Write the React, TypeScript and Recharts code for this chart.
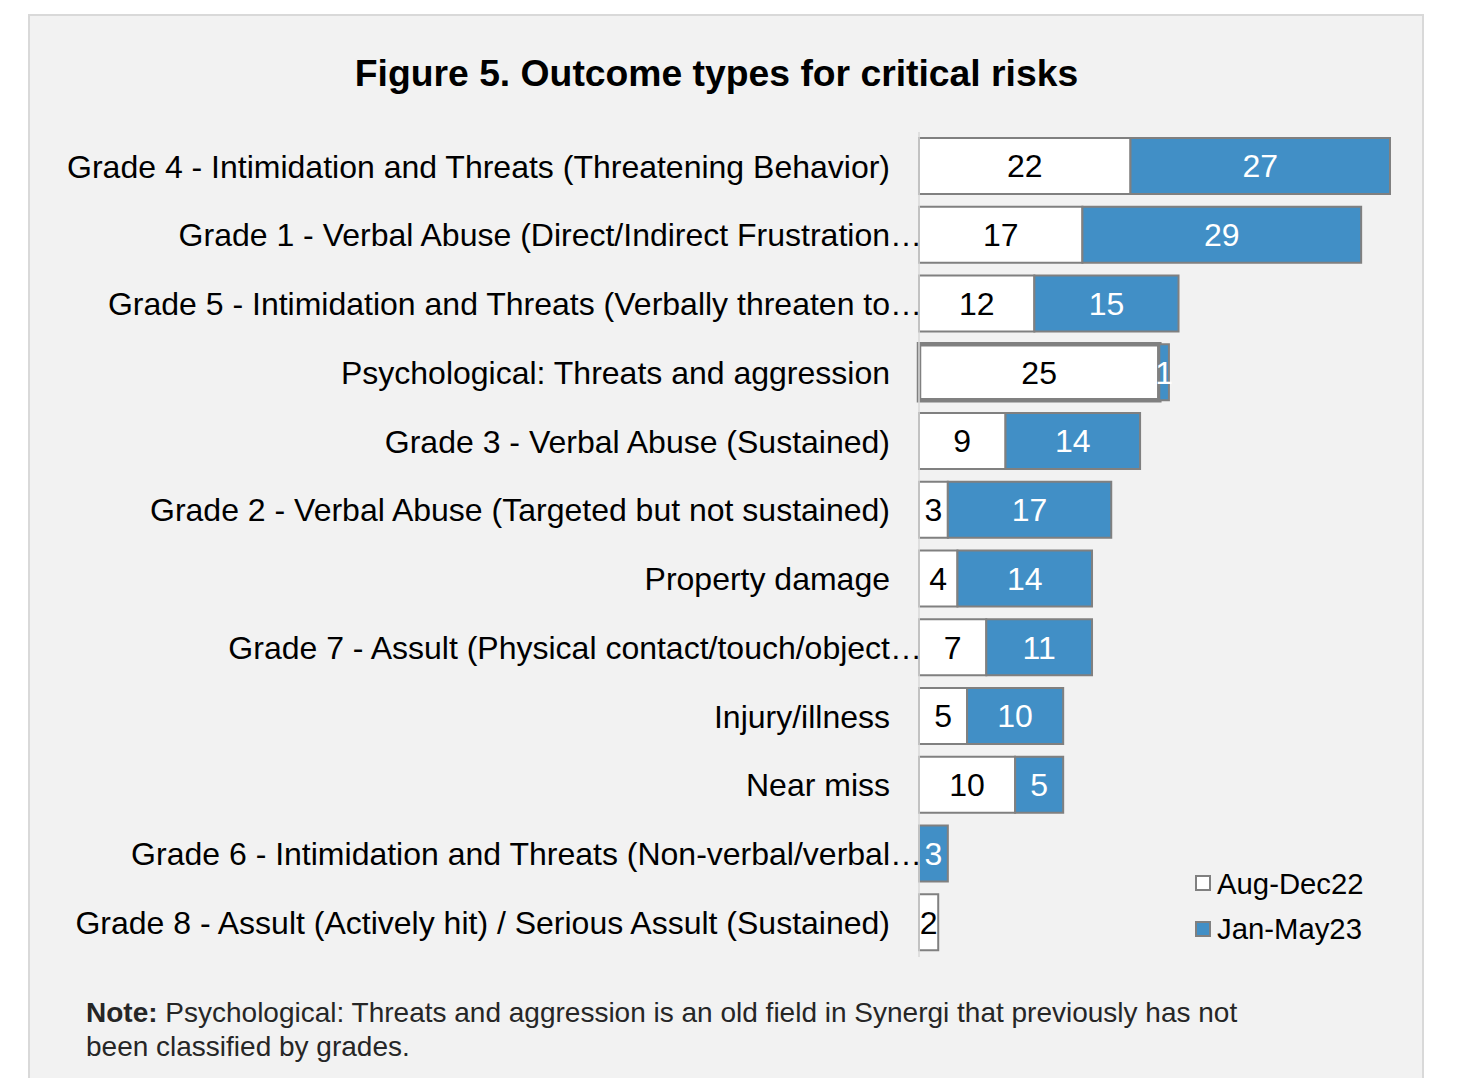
import React from 'react';
import { BarChart, Bar, XAxis, YAxis, LabelList, Legend, Cell } from 'recharts';

const categories = [
  'Grade 4 - Intimidation and Threats (Threatening Behavior)',
  'Grade 1 - Verbal Abuse (Direct/Indirect Frustration…',
  'Grade 5 - Intimidation and Threats (Verbally threaten to…',
  'Psychological: Threats and aggression',
  'Grade 3 - Verbal Abuse (Sustained)',
  'Grade 2 - Verbal Abuse (Targeted but not sustained)',
  'Property damage',
  'Grade 7 - Assult (Physical contact/touch/object…',
  'Injury/illness',
  'Near miss',
  'Grade 6 - Intimidation and Threats (Non-verbal/verbal…',
  'Grade 8 - Assult (Actively hit) / Serious Assult (Sustained)',
];
const augDec22 = [22, 17, 12, 25, 9, 3, 4, 7, 5, 10, 0, 2];
const janMay23 = [27, 29, 15, 1, 14, 17, 14, 11, 10, 5, 3, 0];
const seriesNames = ['Aug-Dec22', 'Jan-May23'];

const data = categories.map((c, i) => ({ name: c, a: augDec22[i], b: janMay23[i] }));

const FONT = '"Liberation Sans", Arial, sans-serif';
const BLUE = '#418fc6';
const BORDER = '#808080';
const LABEL_SIZE = 32;

const Tick = (props: any) => {
  const { x, y, payload } = props;
  const v: string = payload.value;
  const trunc = v.endsWith('…');
  const main = trunc ? v.slice(0, -1) : v;
  return (
    <g>
      <text x={x} y={y} dy="0.35em" textAnchor="end" fontSize={LABEL_SIZE} fill="#000" fontFamily={FONT}>
        {main}
      </text>
      {trunc && (
        <text x={x} y={y} dy="0.35em" textAnchor="start" fontSize={LABEL_SIZE} fill="#000" fontFamily={FONT}>
          …
        </text>
      )}
    </g>
  );
};

const LegendContent = () => {
  const items = [
    { name: seriesNames[0], color: '#ffffff' },
    { name: seriesNames[1], color: BLUE },
  ];
  return (
    <div style={{ fontFamily: FONT, fontSize: 29.3, color: '#000' }}>
      {items.map((it) => (
        <div key={it.name} style={{ display: 'flex', alignItems: 'center', height: 45.5 }}>
          <div
            style={{
              width: 16,
              height: 16,
              boxSizing: 'border-box',
              background: it.color,
              border: `2px solid ${BORDER}`,
              marginRight: 6,
            }}
          />
          <span style={{ lineHeight: '29px' }}>{it.name}</span>
        </div>
      ))}
    </div>
  );
};

const hideZero = (v: any) => (v ? v : '');

export default function App() {
  return (
    <div style={{ position: 'relative', width: 1443, height: 1070, overflow: 'hidden' }}>
      <div
        style={{
          position: 'absolute',
          left: 20,
          top: 6,
          width: 1396,
          height: 1070,
          boxSizing: 'border-box',
          background: '#f2f2f2',
          border: '2px solid #d9d9d9',
          borderBottom: 'none',
        }}
      />
      <div
        style={{
          position: 'absolute',
          left: 208.5,
          top: 46.5,
          width: 1000,
          textAlign: 'center',
          fontFamily: FONT,
          fontWeight: 'bold',
          fontSize: 37.3,
          lineHeight: '37px',
          color: '#000',
        }}
      >
        Figure 5. Outcome types for critical risks
      </div>
      <div style={{ position: 'absolute', left: 0, top: 0 }}>
        <BarChart
          width={1443}
          height={1070}
          data={data}
          layout="vertical"
          margin={{ top: 124, right: 61, bottom: 121, left: 0 }}
        >
          <XAxis type="number" domain={[0, 49]} hide />
          <YAxis
            type="category"
            dataKey="name"
            width={911}
            axisLine={{ stroke: '#d9d9d9', strokeWidth: 1.5 }}
            tickLine={false}
            tickSize={0}
            tickMargin={29}
            tick={<Tick />}
            interval={0}
          />
          <Legend
            layout="horizontal"
            verticalAlign="middle"
            align="center"
            content={<LegendContent />}
            wrapperStyle={{ left: 1187, top: 852.5, width: 220, height: 91 }}
          />
          <Bar
            dataKey="a"
            name={seriesNames[0]}
            stackId="s"
            fill="#ffffff"
            stroke={BORDER}
            strokeWidth={2}
            barSize={56}
            isAnimationActive={false}
          >
            {data.map((d, i) => (
              <Cell key={i} strokeWidth={i === 3 ? 4.5 : 2} />
            ))}
            <LabelList
              dataKey="a"
              position="center"
              formatter={hideZero}
              fill="#000"
              fontSize={LABEL_SIZE}
              fontFamily={FONT}
            />
          </Bar>
          <Bar
            dataKey="b"
            name={seriesNames[1]}
            stackId="s"
            fill={BLUE}
            stroke={BORDER}
            strokeWidth={2}
            barSize={56}
            isAnimationActive={false}
          >
            <LabelList
              dataKey="b"
              position="center"
              formatter={hideZero}
              fill="#fff"
              fontSize={LABEL_SIZE}
              fontFamily={FONT}
            />
          </Bar>
        </BarChart>
      </div>
      <div
        style={{
          position: 'absolute',
          left: 78,
          top: 988.3,
          fontFamily: FONT,
          fontSize: 28,
          lineHeight: '34px',
          color: '#262626',
          whiteSpace: 'nowrap',
        }}
      >
        <b>Note:</b> Psychological: Threats and aggression is an old field in Synergi that previously has not
        <br />
        been classified by grades.
      </div>
    </div>
  );
}
